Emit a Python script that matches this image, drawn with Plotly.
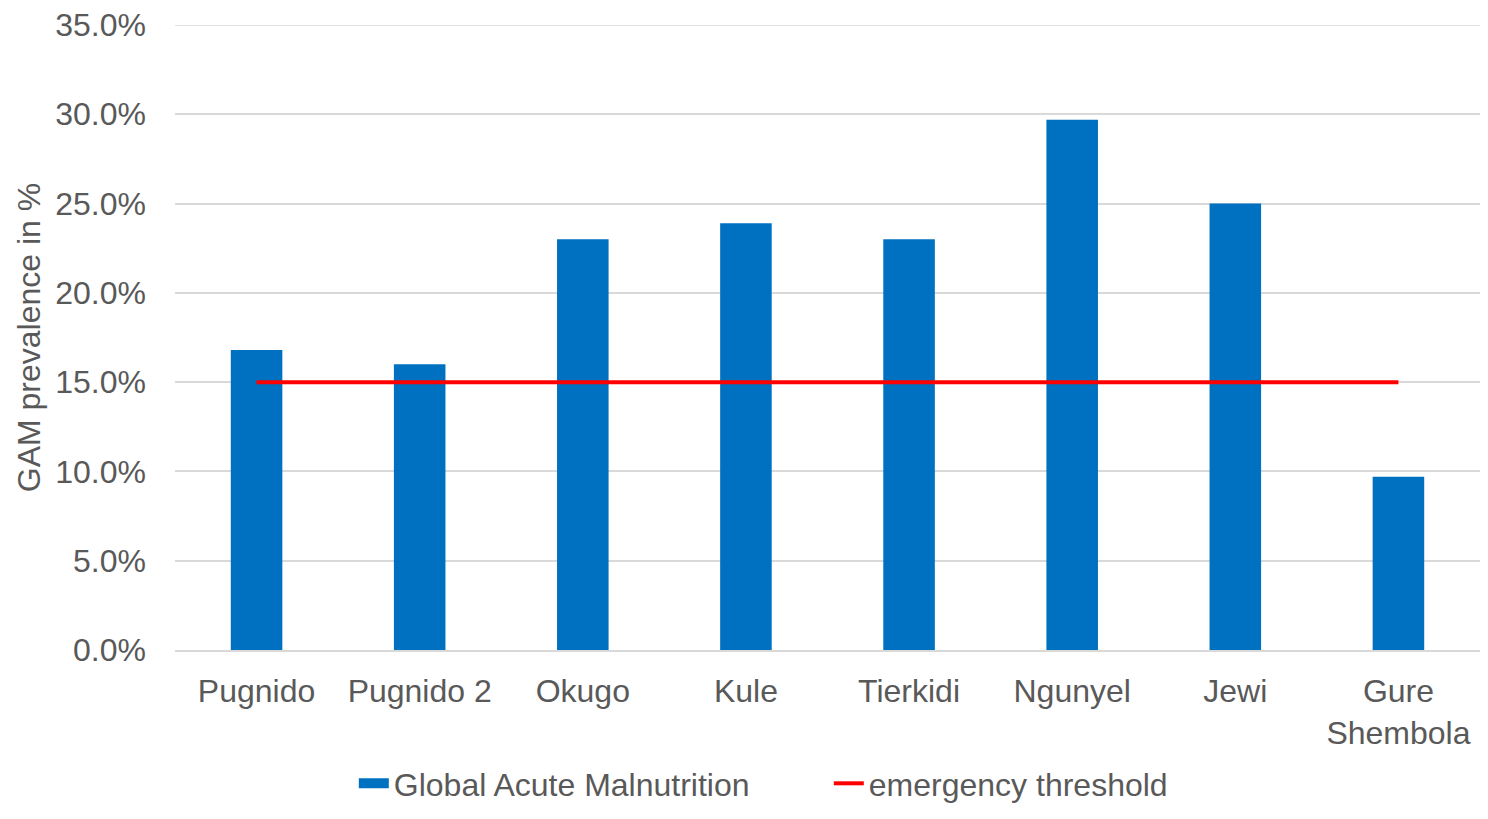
import plotly.graph_objects as go

categories = ["Pugnido", "Pugnido 2", "Okugo", "Kule", "Tierkidi", "Ngunyel", "Jewi", "Gure<br>Shembola"]
gam_values = [16.8, 16.0, 23.0, 23.9, 23.0, 29.7, 25.0, 9.7]
threshold_values = [15.0] * len(categories)
y_ticks = [0, 5, 10, 15, 20, 25, 30, 35]
y_tick_labels = [f"{v:.1f}%" for v in y_ticks]

font_family = "Liberation Sans, Arial, sans-serif"
text_color = "#595959"
bar_color = "#0070C0"
grid_color = "#D9D9D9"
fs = 32

fig = go.Figure()
fig.add_trace(go.Bar(
    x=categories, y=gam_values, name="Global Acute Malnutrition",
    marker=dict(color=bar_color, line=dict(width=0)), showlegend=False,
))
# legend entry for the bars, drawn as a thick swatch
fig.add_trace(go.Scatter(
    x=[None], y=[None], name="Global Acute Malnutrition",
    mode="lines", line=dict(color=bar_color, width=16), showlegend=True,
))
fig.add_trace(go.Scatter(
    x=categories, y=threshold_values, name="emergency threshold",
    mode="lines", line=dict(color="#FF0000", width=4),
))

# top gridline (plotly omits the gridline lying on the plot edge)
fig.add_shape(type="line", xref="paper", x0=0, x1=1, yref="y", y0=y_ticks[-1], y1=y_ticks[-1],
              line=dict(color=grid_color, width=1.5), layer="below")

fig.update_layout(
    width=1472, height=803,
    margin=dict(l=167, r=0, t=17, b=161, autoexpand=False),
    paper_bgcolor="white", plot_bgcolor="white",
    font=dict(family=font_family, size=fs, color=text_color),
    bargap=0.684,
    showlegend=True,
    legend=dict(
        orientation="h", x=0.501, xanchor="center",
        yref="container", y=0.0, yanchor="bottom",
        font=dict(size=fs, color=text_color), itemwidth=30,
        entrywidth=430, entrywidthmode="pixels",
    ),
    xaxis=dict(
        showgrid=False, showline=True, linecolor=grid_color, linewidth=1.5,
        ticks="", tickfont=dict(size=fs, color=text_color),
        ticklabelstandoff=12, automargin=False,
    ),
    yaxis=dict(
        range=[0, 35], tickvals=y_ticks, ticktext=y_tick_labels,
        showgrid=True, gridcolor=grid_color, gridwidth=1.5,
        zeroline=False, showline=False, ticks="",
        tickfont=dict(size=fs, color=text_color),
        ticklabelstandoff=28, ticklabeloverflow="allow", automargin=False,
        title=dict(text="GAM prevalence in %", font=dict(size=fs, color=text_color), standoff=5),
    ),
)

fig.write_html("out.html")
